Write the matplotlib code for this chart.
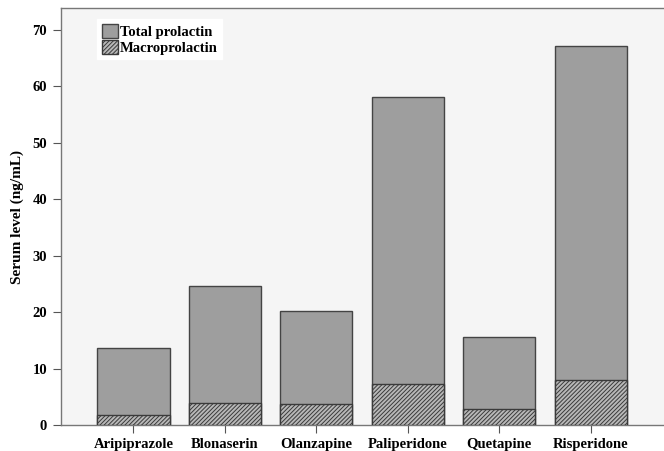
import matplotlib.pyplot as plt
import numpy as np
from matplotlib.patches import Patch

# values (ng/mL)
drugs = ['Aripiprazole', 'Blonaserin', 'Olanzapine', 'Paliperidone', 'Quetapine', 'Risperidone']
total_prolactin = [13.6, 24.6, 20.2, 58.1, 15.6, 67.2]
macroprolactin = [1.8, 3.9, 3.7, 7.3, 2.8, 8.0]

plt.rcParams['font.family'] = ['Liberation Serif', 'DejaVu Serif']
plt.rcParams['font.weight'] = 'bold'
plt.rcParams['hatch.linewidth'] = 0.7

fig = plt.figure(figsize=(6.64, 4.51), dpi=100)
ax = fig.add_axes([0.092, 0.0576, 0.908, 0.9247])
ax.set_facecolor('#f5f5f5')

x = np.arange(len(drugs))
w = 0.79
ax.bar(x, total_prolactin, width=w, color='#9e9e9e', edgecolor='#444444', linewidth=1.0, zorder=2)
ax.bar(x, macroprolactin, width=w, color='#b8b8b8', edgecolor='#3a3a3a', linewidth=1.0,
       hatch='////////', zorder=3)

ax.set_xlim(-0.79, 5.8)
ax.set_ylim(0, 73.9)
ax.set_yticks(range(0, 80, 10))
ax.set_xticks(x)
ax.set_xticklabels(drugs, fontsize=10.5, fontweight='bold')
ax.tick_params(axis='y', labelsize=10.5, length=6, color='#555555', pad=4)
ax.tick_params(axis='x', length=6, color='#555555', pad=3)
for lab in ax.get_yticklabels():
    lab.set_fontweight('bold')
ax.set_ylabel('Serum level (ng/mL)', fontsize=11, fontweight='bold', labelpad=6)

for s in ['left', 'bottom', 'top']:
    ax.spines[s].set_color('#777777')
    ax.spines[s].set_linewidth(1.0)
ax.spines['right'].set_visible(False)

handles = [Patch(facecolor='#9e9e9e', edgecolor='#444444', label='Total prolactin'),
           Patch(facecolor='#b8b8b8', edgecolor='#3a3a3a', hatch='////////', label='Macroprolactin')]
leg = ax.legend(handles=handles, loc='upper left', bbox_to_anchor=(0.055, 0.98),
                frameon=True, fancybox=False, prop={'size': 10.5, 'weight': 'bold'},
                handlelength=1.1, handleheight=1.1, handletextpad=0.15,
                labelspacing=0.1, borderpad=0.3, borderaxespad=0.2)
leg.get_frame().set_facecolor('white')
leg.get_frame().set_edgecolor('white')
leg.get_frame().set_alpha(1.0)

fig.savefig('out.png', dpi=100)
